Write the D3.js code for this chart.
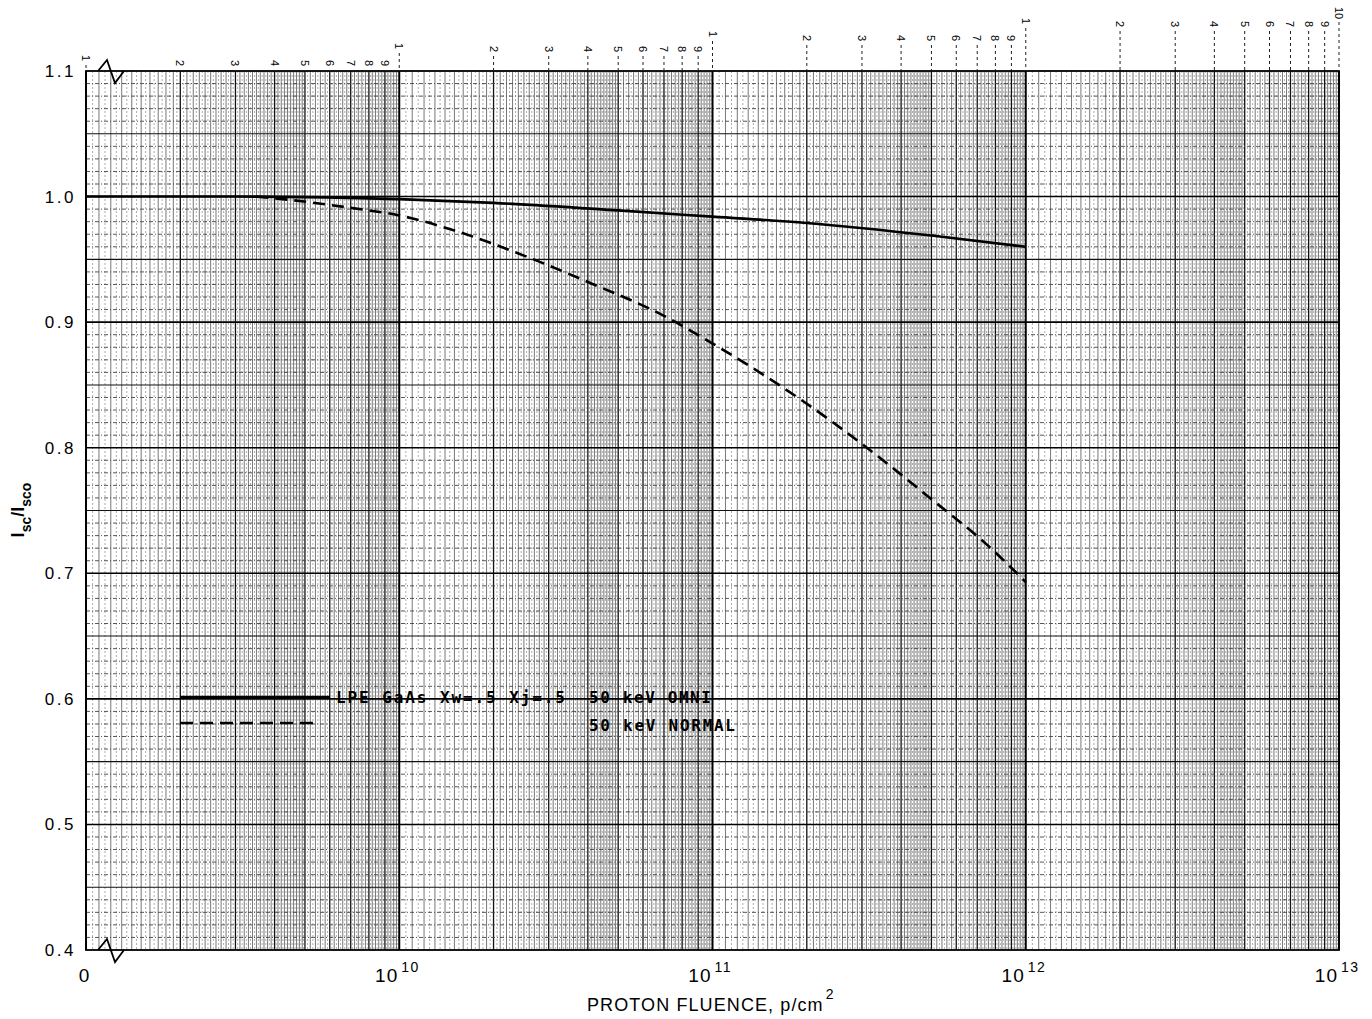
<!DOCTYPE html>
<html><head><meta charset="utf-8">
<script src="https://cdn.jsdelivr.net/npm/d3@7"></script>
<style>body{margin:0;background:#fff}</style>
</head><body>
<svg id="c" width="1372" height="1019"></svg>
<script>
// ---------- data ----------
const decadeValues = [1e9, 1e10, 1e11, 1e12, 1e13];
const decadeBase = ["0", "10", "10", "10", "10"];
const decadeExp = ["", "10", "11", "12", "13"];
const yTickValues = [0.4, 0.5, 0.6, 0.7, 0.8, 0.9, 1.0, 1.1];
const yTickLabels = ["0.4", "0.5", "0.6", "0.7", "0.8", "0.9", "1.0", "1.1"];
const cycleMultipliers = [1, 2, 3, 4, 5, 6, 7, 8, 9];
const cycleLabels = ["1", "2", "3", "4", "5", "6", "7", "8", "9"];
const endCycleLabel = "10";
const omniFluence = [1e9, 3e9, 1e10, 2e10, 5e10, 1e11, 2e11, 5e11, 1e12];
const omniRatio = [1.000, 1.000, 0.998, 0.995, 0.989, 0.984, 0.979, 0.969, 0.960];
const normalFluence = [3.5e9, 4.6e9, 7e9, 1e10, 1.5e10, 2.5e10, 4e10, 7e10, 1e11, 2e11, 3e11, 5e11, 7.5e11, 1e12];
const normalRatio = [1.000, 0.997, 0.991, 0.985, 0.973, 0.953, 0.932, 0.905, 0.883, 0.835, 0.803, 0.759, 0.723, 0.693];
const legendMain = "LPE GaAs Xw=.5 Xj=.5";
const legendOmni = "50 keV OMNI";
const legendNormal = "50 keV NORMAL";
const xTitle = "PROTON FLUENCE, p/cm";
const xTitleSup = "2";

// ---------- layout ----------
const L = 86, R = 1339, T = 71, B = 950;
const svg = d3.select("#c");
const x = d3.scaleLog().domain([1e9, 1e13]).range([L, R]);
const y = d3.scaleLinear().domain([0.4, 1.1]).range([B, T]);
svg.append("rect").attr("width", 1372).attr("height", 1019).attr("fill", "#fff");

const grid = svg.append("g");
// vertical log-paper grid
for (let d = 0; d < 4; d++) {
  const base = decadeValues[d];
  for (let k = 21; k < 200; k++) {
    const m = k / 20;
    let cls = null;
    if (k % 20 === 0) cls = "int";
    else if (m < 5) cls = (k % 2 === 0) ? "sub" : "dot";
    else cls = (k % 4 === 0) ? "sub" : (k % 2 === 0 ? "dot" : null);
    if (!cls) continue;
    const xx = x(m * base);
    const ln = grid.append("line").attr("x1", xx).attr("x2", xx).attr("y1", T).attr("y2", B);
    if (cls === "int") ln.attr("stroke", "#111").attr("stroke-width", 1.3);
    else if (cls === "sub") ln.attr("stroke", "#555").attr("stroke-width", 0.8);
    else ln.attr("stroke", "#888").attr("stroke-width", 0.7).attr("stroke-dasharray", "2,2");
  }
}
// horizontal grid
for (let k = 41; k < 110; k++) {
  const yy = y(k / 100);
  const ln = grid.append("line").attr("x1", L).attr("x2", R).attr("y1", yy).attr("y2", yy);
  if (k % 10 === 0) ln.attr("stroke", "#000").attr("stroke-width", 1.6);
  else if (k % 5 === 0) ln.attr("stroke", "#111").attr("stroke-width", 1.1);
  else ln.attr("stroke", "#444").attr("stroke-width", 0.9).attr("stroke-dasharray", "4,2,1,2");
}
// decade lines
decadeValues.forEach(v => {
  grid.append("line").attr("x1", x(v)).attr("x2", x(v)).attr("y1", T).attr("y2", B)
    .attr("stroke", "#000").attr("stroke-width", 2);
});
// frame
svg.append("rect").attr("x", L).attr("y", T).attr("width", R - L).attr("height", B - T)
  .attr("fill", "none").attr("stroke", "#000").attr("stroke-width", 1.8);

// top cycle labels with dashed leaders
const decadeLabelY = [60, 46, 35, 21];
const oneLabelY = [55, 43, 31, 18];
const topG = svg.append("g").attr("font-family", "Liberation Sans, Arial, sans-serif").attr("font-size", 11);
for (let d = 0; d < 4; d++) {
  cycleMultipliers.forEach((m, i) => {
    const xx = x(m * decadeValues[d]);
    const ty = (m === 1) ? oneLabelY[d] : decadeLabelY[d];
    topG.append("text").attr("transform", `translate(${xx - 4},${ty}) rotate(90)`).text(cycleLabels[i]);
    topG.append("line").attr("x1", xx).attr("x2", xx).attr("y1", ty + 10).attr("y2", T)
      .attr("stroke", "#222").attr("stroke-width", 1).attr("stroke-dasharray", "3,3");
  });
}
{
  const xx = x(1e13);
  topG.append("text").attr("transform", `translate(${xx - 4},${7}) rotate(90)`).text(endCycleLabel);
  topG.append("line").attr("x1", xx).attr("x2", xx).attr("y1", 22).attr("y2", T)
    .attr("stroke", "#222").attr("stroke-width", 1).attr("stroke-dasharray", "3,3");
}

// axis break symbols
const zig = [[98, 0], [107, -11], [115, 12], [124, 0]];
[T, B].forEach(yy => {
  svg.append("path").attr("d", d3.line()(zig.map(p => [p[0], yy + p[1]])))
    .attr("fill", "none").attr("stroke", "#000").attr("stroke-width", 1.8);
});

// y tick labels
const yl = svg.append("g").attr("font-family", "Liberation Sans, Arial, sans-serif")
  .attr("font-size", 17).attr("letter-spacing", "2.5px").attr("text-anchor", "end");
yTickValues.forEach((v, i) => {
  yl.append("text").attr("x", 76).attr("y", y(v) + 6).text(yTickLabels[i]);
});

// x tick labels
const xl = svg.append("g").attr("font-family", "Liberation Sans, Arial, sans-serif");
decadeValues.forEach((v, i) => {
  const xx = x(v);
  if (decadeExp[i] === "") {
    xl.append("text").attr("x", xx - 2).attr("y", 982).attr("font-size", 19).attr("text-anchor", "middle").text(decadeBase[i]);
  } else {
    xl.append("text").attr("x", xx - 1).attr("y", 982).attr("font-size", 19).attr("letter-spacing", "1px").attr("text-anchor", "end").text(decadeBase[i]);
    xl.append("text").attr("x", xx + 2).attr("y", 972).attr("font-size", 14).attr("letter-spacing", "1.5px").text(decadeExp[i]);
  }
});
// x title
const xt = xl.append("text").attr("x", 587).attr("y", 1011).attr("font-size", 18).attr("letter-spacing", "1.1px");
xt.append("tspan").text(xTitle);
xt.append("tspan").attr("dx", 2).attr("dy", -12).attr("font-size", 14).text(xTitleSup);

// y title
const yt = svg.append("text").attr("transform", "translate(24,510) rotate(-90)")
  .attr("font-family", "Liberation Sans, Arial, sans-serif").attr("font-weight", "bold")
  .attr("text-anchor", "middle").attr("font-size", 18);
yt.append("tspan").text("I");
yt.append("tspan").attr("dy", 7).attr("font-size", 14).text("sc");
yt.append("tspan").attr("dy", -7).text("/");
yt.append("tspan").text("I");
yt.append("tspan").attr("dy", 7).attr("font-size", 14).text("sco");

// curves
const line = d3.line().x(d => x(d[0])).y(d => y(d[1])).curve(d3.curveMonotoneX);
svg.append("path").attr("d", line(omniFluence.map((f, i) => [f, omniRatio[i]])))
  .attr("fill", "none").attr("stroke", "#000").attr("stroke-width", 2.6);
svg.append("path").attr("d", line(normalFluence.map((f, i) => [f, normalRatio[i]])))
  .attr("fill", "none").attr("stroke", "#000").attr("stroke-width", 2.6).attr("stroke-dasharray", "12,7");

// legend
const lg = svg.append("g");
lg.append("line").attr("x1", 180).attr("x2", 330).attr("y1", 697).attr("y2", 697)
  .attr("stroke", "#000").attr("stroke-width", 2.4);
lg.append("line").attr("x1", 180).attr("x2", 318).attr("y1", 723).attr("y2", 723)
  .attr("stroke", "#000").attr("stroke-width", 2.4).attr("stroke-dasharray", "13,7");
const lt = lg.append("g").attr("font-family", "DejaVu Sans Mono, monospace").attr("font-weight", "bold").attr("font-size", 16);
lt.append("text").attr("x", 336).attr("y", 703).attr("textLength", 229).attr("lengthAdjust", "spacing").text(legendMain);
lt.append("text").attr("x", 589).attr("y", 703).attr("textLength", 122).attr("lengthAdjust", "spacing").text(legendOmni);
lt.append("text").attr("x", 589).attr("y", 731).attr("textLength", 146).attr("lengthAdjust", "spacing").text(legendNormal);
</script>
</body></html>
